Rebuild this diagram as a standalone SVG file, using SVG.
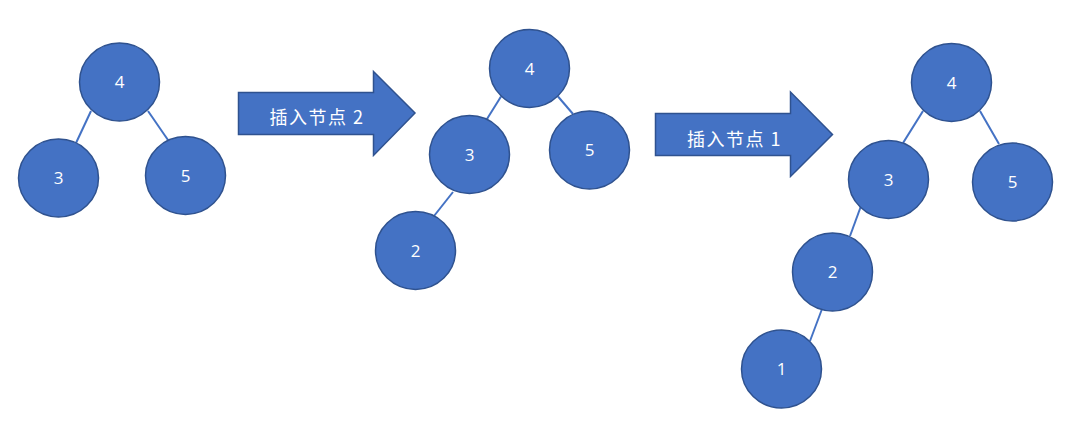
<svg xmlns="http://www.w3.org/2000/svg" width="1088" height="440" viewBox="0 0 1088 440">
  <style>
    .node ellipse { fill: #4472C4; stroke: #2F528F; stroke-width: 1.5; }
    .node text { fill: #FFFFFF; font-family: "Open Sans", "Noto Sans", sans-serif; font-size: 17px; text-anchor: middle; }
    .arrow text { fill: #FFFFFF; font-family: "Noto Sans CJK SC", sans-serif; font-size: 18px; letter-spacing: 1.5px; text-anchor: middle; }
    .arrow path { fill: #4472C4; stroke: #2F528F; stroke-width: 1.5; stroke-linejoin: miter; }
    .edge { stroke: #4472C4; stroke-width: 2; fill: none; }
  </style>
  <rect width="1088" height="440" fill="#FFFFFF"/>

  <g id="connectors">
    <line class="edge" x1="91" y1="111" x2="76" y2="143"/>
    <line class="edge" x1="148" y1="111" x2="168" y2="140"/>
    <line class="edge" x1="501" y1="96.5" x2="487" y2="119"/>
    <line class="edge" x1="558" y1="96.5" x2="573" y2="114"/>
    <line class="edge" x1="453" y1="192" x2="434" y2="216"/>
    <line class="edge" x1="923" y1="111" x2="903" y2="143"/>
    <line class="edge" x1="980" y1="111" x2="999" y2="144"/>
    <line class="edge" x1="861" y1="206" x2="850" y2="236"/>
    <line class="edge" x1="822" y1="309" x2="810" y2="341"/>
  </g>

  <g id="arrow1" class="arrow">
    <path d="M238.5,92.5 H373.5 V71.5 L415,113 L373.5,155.5 V134.5 H238.5 Z"/>
    <text x="317" y="124">插入节点 2</text>
  </g>
  <g id="arrow2" class="arrow">
    <path d="M655.5,113.5 H790.5 V92 L832.5,134.5 L790.5,176.5 V155.5 H655.5 Z"/>
    <text x="734.5" y="145.5">插入节点 1</text>
  </g>

  <!-- Tree 1 -->
  <g id="t1-n4" class="node"><ellipse cx="119.5" cy="82" rx="40" ry="39"/><text x="119.5" y="88">4</text></g>
  <g id="t1-n3" class="node"><ellipse cx="58.5" cy="178" rx="40" ry="39"/><text x="58.5" y="184">3</text></g>
  <g id="t1-n5" class="node"><ellipse cx="185.5" cy="175.5" rx="40" ry="39"/><text x="185.5" y="181.5">5</text></g>

  <!-- Tree 2 -->
  <g id="t2-n4" class="node"><ellipse cx="529.5" cy="68.5" rx="40" ry="39"/><text x="529.5" y="74.5">4</text></g>
  <g id="t2-n3" class="node"><ellipse cx="469.5" cy="154.5" rx="40" ry="39"/><text x="469.5" y="160.5">3</text></g>
  <g id="t2-n5" class="node"><ellipse cx="589.5" cy="150" rx="40" ry="39"/><text x="589.5" y="156">5</text></g>
  <g id="t2-n2" class="node"><ellipse cx="415.5" cy="250.5" rx="40" ry="39"/><text x="415.5" y="256.5">2</text></g>

  <!-- Tree 3 -->
  <g id="t3-n4" class="node"><ellipse cx="951.5" cy="82.5" rx="40" ry="39"/><text x="951.5" y="88.5">4</text></g>
  <g id="t3-n3" class="node"><ellipse cx="888.5" cy="179.5" rx="40" ry="39"/><text x="888.5" y="185.5">3</text></g>
  <g id="t3-n5" class="node"><ellipse cx="1012.5" cy="182" rx="40" ry="39"/><text x="1012.5" y="188">5</text></g>
  <g id="t3-n2" class="node"><ellipse cx="832.5" cy="272" rx="40" ry="39"/><text x="832.5" y="278">2</text></g>
  <g id="t3-n1" class="node"><ellipse cx="781.5" cy="369" rx="40" ry="39"/><text x="781.5" y="375">1</text></g>
</svg>
